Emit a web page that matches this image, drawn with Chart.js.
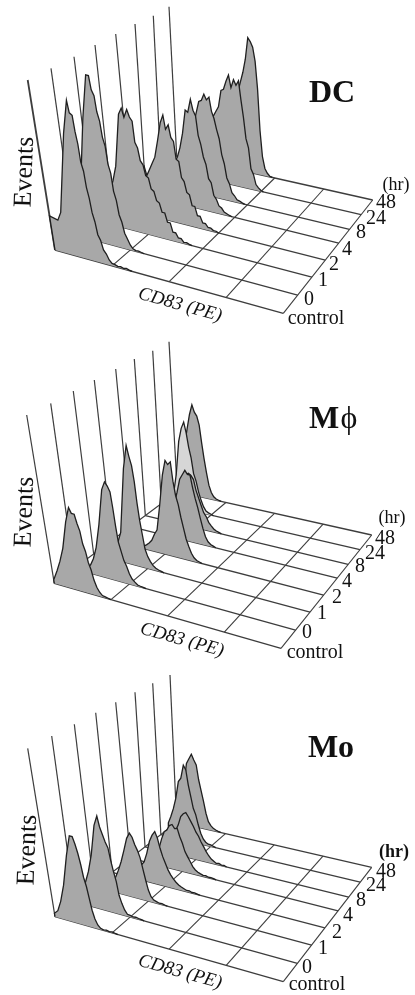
<!DOCTYPE html>
<html>
<head>
<meta charset="utf-8">
<title>CD83 histograms</title>
<script src="https://cdn.jsdelivr.net/npm/chart.js@4"></script>
<style>
  html, body { margin: 0; padding: 0; background: #fff; }
  canvas { display: block; filter: blur(0.4px); }
</style>
</head>
<body>
<canvas id="chart" width="415" height="995"></canvas>
<script>
// time points, front row to back row
const timeLabels = ['control', '0', '1', '2', '4', '8', '24', '48'];
// depth of each row on the floor, 0 = front, 1 = back
const rowDepth = [0, 0.16, 0.32, 0.47, 0.62, 0.74, 0.87, 1];
// one histogram bin along the CD83 axis (axis runs 0..1)
const binWidth = 1 / 80;
const decadeLines = [0.25, 0.5, 0.75, 1];

// first bin of each histogram (the bins before it sit hidden behind the front rows)
const dcStart = [0, 0, 0, 5, 10, 12, 14, 16];
const mpStart = [0, 5, 7, 12, 15, 12, 4, 2];
const moStart = [0, 3, 4, 9, 10, 10, 3, 2];

// events per bin, DC
const dcControl = [20, 18, 23, 70, 90, 83, 82, 73, 66, 56, 51, 42, 36, 28, 23, 16, 13, 8, 6, 3, 1.4, 1.2, 0.6, 0.9, 0.4, 0.8, 0.3];
const dc0h = [15, 15, 18, 70, 96, 96, 88, 85, 76, 71, 62, 57, 47, 42, 32, 27, 19, 15, 9, 6, 3, 1.1, 0.5, 0.7, 0.3];
const dc1h = [10, 10, 10, 12, 14, 17, 20, 26, 35, 66, 70, 65, 70, 66, 64, 52, 49, 42, 40, 34, 33, 27, 26, 21, 20, 15, 15, 10, 10, 5, 5, 2.4, 2.4, 0.7, 0.9, 0.3];
const dc2h = [11, 12, 14, 16, 18, 21, 25, 28, 23, 27, 31, 35, 45, 56, 61, 53, 56, 49, 47, 37, 36, 27, 25, 19, 18, 12, 12, 7, 7, 3.5, 3.5, 1.6, 1.7, 0.6, 0.6];
const dc4h = [10, 12, 14, 16, 18, 20, 22, 24, 27, 33, 42, 56, 55, 63, 57, 54, 43, 38, 31, 27, 19, 17, 10, 8, 4.5, 3.6, 1.6, 1, 0.4];
const dc8h = [14, 16, 20, 24, 28, 32, 36, 40, 47, 54, 55, 59, 56, 58, 50, 46, 40, 35, 26, 21, 13, 10, 5, 3.6, 1.6, 1.2, 0.5];
const dc24h = [12, 15, 18, 22, 26, 30, 34, 38, 41, 44, 54, 55, 60, 64, 57, 62, 59, 62, 51, 41, 29, 24, 12, 9, 3.4, 1.8, 0.6];
const dc48h = [6, 10, 14, 18, 22, 26, 30, 34, 40, 46, 52, 58, 66, 79, 77, 74, 66, 50, 26, 11, 4.3, 1.8, 0.4];

// events per bin, M-phi
const mpControl = [2, 8, 14, 22, 38, 47, 44, 44, 39, 35, 28, 24, 18, 14, 8.6, 4.8, 2.4, 0.9, 0.6, 0.3];
const mp0h = [3, 5, 9, 16, 30, 51, 56, 54, 51, 42, 32, 23, 18, 13, 10, 6, 3.4, 2, 0.8, 0.5, 0.3];
const mp1h = [3, 5, 11, 17, 55, 69, 63, 58, 49, 37, 27, 19, 11, 7, 4.5, 2.5, 1.4, 0.8, 0.4];
const mp2h = [1.5, 2.5, 4, 6, 10, 13, 28, 46, 55, 53, 55, 44, 36, 31, 24, 18, 12, 8, 4.4, 2.2, 1, 0.5];
const mp4h = [8, 14, 20, 27, 35, 38, 41, 39, 39, 32, 26, 21, 15, 9.5, 5, 2.4, 1.2, 0.6];
const mp8h = [6, 12, 20, 26, 30, 31, 30, 28, 22, 18, 14, 10, 8, 5, 3.3, 1.8, 1, 0.5];
const mp24h = [3, 8, 19, 39, 47, 51, 45, 37, 31, 22, 18, 12, 7.5, 4, 1.7, 1, 0.5];
const mp48h = [15, 28, 38, 47, 53, 49, 47, 42, 32, 23, 15, 8, 4, 1.8, 0.8, 0.4];

// events per bin, Mo
const moControl = [2, 4, 10, 20, 38, 50, 50, 46, 41, 35, 28, 23, 16.5, 10, 5.3, 2.3, 0.8, 0.4, 0.7, 0.3, 0.6, 0.3];
const mo0h = [8, 13.5, 20, 30, 48, 54, 48, 44, 40, 37, 30, 24, 18.6, 11, 6.7, 3.3, 1.2, 1, 0.5, 0.8, 0.5, 0.3];
const mo1h = [3, 5, 7, 8, 9, 13.5, 19, 26, 33.5, 37, 35, 31, 28, 24, 18, 12, 6.5, 3, 1.5, 1, 0.5, 0.7, 0.3];
const mo2h = [4, 7, 9, 11, 16.5, 24, 28, 30.5, 27, 21.5, 17, 13.5, 10, 7.5, 5.5, 4, 2.8, 2, 1.4, 0.8, 1, 0.4, 0.6, 0.3];
const mo4h = [5, 10, 16, 20.6, 22, 25, 26, 24, 24.5, 20, 16.5, 12, 9.4, 6.9, 4.3, 2.7, 1.8, 1.2, 0.7, 0.9, 0.4, 0.6, 0.3];
const mo8h = [5, 10, 14, 17.6, 23, 25, 26, 24, 21.5, 19, 16, 14, 11, 8.6, 6, 4, 2.4, 1.5, 0.6, 0.9, 0.3, 0.6];
const mo24h = [8, 12, 17, 23.5, 33.6, 36, 44, 41.5, 33, 26.5, 20, 16.5, 11, 6.4, 3.4, 1.8, 1, 0.9, 0.5];
const mo48h = [10, 24, 36, 39, 42, 39, 36.4, 28, 22, 16, 9.3, 4.7, 2.7, 1.4, 0.8, 0.3];

// pixels on the page for one event unit
const eventScale = 1.7;
const fillColor = '#a8a8a8';
const lineColor = '#1f1f1f';
const gridColor = '#3d3d3d';

// floor corners and wall tops of each 3D panel
const panels = [
    {
        title: 'DC', titlePos: [332, 94],
        start: dcStart,
        events: [dcControl, dc0h, dc1h, dc2h, dc4h, dc8h, dc24h, dc48h],
        fills: [],
        frontWall: 1.8,
        fl: [55, 250], fr: [283.3, 313.3], br: [372.7, 200], bl: [176.7, 156],
        tops: [[27.7, 80], [51, 68.3], [74, 56.7], [95, 45], [115.7, 34], [135, 24], [153.3, 15.7], [169, 6.7]],
        eventsPos: [25, 172], cdPos: [180, 305],
        hrBold: false,
        hrPos: [396, 185],
        labelPos: [[316, 319], [309, 300], [323, 281], [334, 265], [347, 250], [361, 233], [376, 219], [386, 203]]
    },
    {
        title: 'M', titlePos: [324, 420],
        start: mpStart,
        events: [mpControl, mp0h, mp1h, mp2h, mp4h, mp8h, mp24h, mp48h],
        fills: { 6: '#d6d6d6' },
        frontWall: 1.2,
        fl: [54.3, 583.3], fr: [281, 648.3], br: [371.7, 535], bl: [177.3, 491.7],
        tops: [[26.7, 415], [50.7, 403.3], [73.3, 391], [94.3, 380], [115.7, 369], [134.3, 359], [152.7, 350.7], [169, 341.7]],
        eventsPos: [25, 512], cdPos: [182, 640],
        hrBold: false,
        hrPos: [392, 518],
        labelPos: [[315, 653], [307, 633], [322, 614], [337, 598], [347, 582], [360, 567], [375, 554], [385, 539]]
    },
    {
        title: 'Mo', titlePos: [331, 749],
        start: moStart,
        events: [moControl, mo0h, mo1h, mo2h, mo4h, mo8h, mo24h, mo48h],
        fills: [],
        frontWall: 1.2,
        fl: [55, 916.7], fr: [283.3, 981.7], br: [371.7, 867.3], bl: [176.7, 822.3],
        tops: [[27.7, 748.3], [51.7, 736], [74.3, 724.3], [95.7, 712.7], [115.7, 702.3], [135, 692.3], [152.7, 683.3], [170, 675]],
        eventsPos: [28, 850], cdPos: [180, 972],
        hrBold: true,
        hrPos: [394, 852],
        labelPos: [[317, 985], [307, 968], [323, 949], [337, 933], [348, 916], [361, 901], [376, 886], [386, 872]]
    }
];

function lerp(a, b, t) {
    return a + (b - a) * t;
}

// point on the floor for a CD83 position and a row
function floorPoint(panel, u, depth) {
    const frontX = lerp(panel.fl[0], panel.fr[0], u);
    const frontY = lerp(panel.fl[1], panel.fr[1], u);
    const backX = lerp(panel.bl[0], panel.br[0], u);
    const backY = lerp(panel.bl[1], panel.br[1], u);
    return { x: lerp(frontX, backX, depth), y: lerp(frontY, backY, depth) };
}

// build the histogram outline of one row, closed on the floor line
function histogramPoints(panel, row) {
    const depth = rowDepth[row];
    const first = panel.start[row];
    const values = panel.events[row];
    const wallBase = floorPoint(panel, 0, depth);
    const lean = (panel.tops[row][0] - wallBase.x) / 100;
    const points = [floorPoint(panel, first * binWidth, depth)];
    values.forEach((value, i) => {
        const bin = first + i;
        const base = floorPoint(panel, bin * binWidth, depth);
        points.push({
            x: base.x + (bin === 0 ? lean * value : 0),
            y: base.y - value * eventScale
        });
    });
    points.push(floorPoint(panel, (first + values.length) * binWidth, depth));
    return points;
}

function addLine(datasets, points, color, width, extra) {
    datasets.push(Object.assign({
        data: points,
        showLine: true,
        borderColor: color,
        borderWidth: width,
        pointRadius: 0,
        tension: 0,
        fill: false,
        order: -datasets.length
    }, extra || {}));
}

function buildDatasets() {
    const datasets = [];
    panels.forEach(panel => {
        // floor first: left edge and the decade lines
        addLine(datasets, [floorPoint(panel, 0, 0), floorPoint(panel, 0, 1)], gridColor, 1.1);
        decadeLines.forEach(u => {
            addLine(datasets, [floorPoint(panel, u, 0), floorPoint(panel, u, 1)], gridColor, 1.1);
        });
        // rows from back to front so front histograms cover the back ones
        for (let row = rowDepth.length - 1; row >= 0; row--) {
            const wallBase = floorPoint(panel, 0, rowDepth[row]);
            const top = { x: panel.tops[row][0], y: panel.tops[row][1] };
            addLine(datasets, [top, wallBase], gridColor, row === 0 ? panel.frontWall : 1.2);
            addLine(datasets, [wallBase, floorPoint(panel, 1, rowDepth[row])], gridColor, 1.3);
            addLine(datasets, histogramPoints(panel, row), lineColor, 1.3, {
                areaColor: panel.fills[row] || fillColor
            });
        }
    });
    return datasets;
}

// fills the closed histogram shape just before its outline gets stroked
const histogramFill = {
    id: 'histogramFill',
    beforeDatasetDraw(chart, args) {
        const dataset = chart.data.datasets[args.index];
        if (!dataset.areaColor) return;
        const ctx = chart.ctx;
        const elements = args.meta.data;
        ctx.save();
        ctx.beginPath();
        elements.forEach((el, i) => {
            if (i === 0) ctx.moveTo(el.x, el.y);
            else ctx.lineTo(el.x, el.y);
        });
        ctx.closePath();
        ctx.fillStyle = dataset.areaColor;
        ctx.fill();
        ctx.restore();
    }
};

function drawText(ctx, text, x, y, font, angle) {
    ctx.save();
    ctx.translate(x, y);
    ctx.rotate((angle || 0) * Math.PI / 180);
    ctx.font = font;
    ctx.fillText(text, 0, 0);
    ctx.restore();
}

const panelText = {
    id: 'panelText',
    afterDraw(chart) {
        const ctx = chart.ctx;
        const serif = '"Liberation Serif", serif';
        ctx.save();
        ctx.fillStyle = '#111';
        ctx.textAlign = 'center';
        ctx.textBaseline = 'middle';
        panels.forEach(panel => {
            drawText(ctx, panel.title, panel.titlePos[0], panel.titlePos[1], 'bold 32px ' + serif);
            if (panel.title === 'M') {
                drawText(ctx, 'ϕ', panel.titlePos[0] + 25, panel.titlePos[1], '32px ' + serif);
            }
            drawText(ctx, 'Events', panel.eventsPos[0], panel.eventsPos[1], '26px ' + serif, -88);
            drawText(ctx, 'CD83 (PE)', panel.cdPos[0], panel.cdPos[1], 'italic 19px ' + serif, 15.6);
            drawText(ctx, '(hr)', panel.hrPos[0], panel.hrPos[1], (panel.hrBold ? 'bold ' : '') + '18px ' + serif);
            timeLabels.forEach((label, i) => {
                drawText(ctx, label, panel.labelPos[i][0], panel.labelPos[i][1], '20px ' + serif);
            });
        });
        ctx.restore();
    }
};

function renderChart() {
    const ctx = document.getElementById('chart').getContext('2d');
    new Chart(ctx, {
        type: 'scatter',
        data: { datasets: buildDatasets() },
        options: {
            responsive: false,
            animation: false,
            layout: { padding: 0 },
            scales: {
                x: { type: 'linear', display: false, min: 0, max: 415 },
                y: { type: 'linear', display: false, min: 0, max: 995, reverse: true }
            },
            plugins: {
                legend: { display: false },
                tooltip: { enabled: false }
            }
        },
        plugins: [histogramFill, panelText]
    });
}

document.addEventListener('DOMContentLoaded', () => {
    renderChart();
});
</script>
</body>
</html>
